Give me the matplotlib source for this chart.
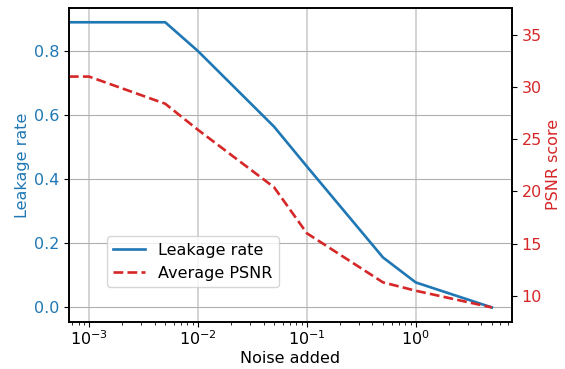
import numpy as np
import matplotlib
matplotlib.use("Agg")
import matplotlib.pyplot as plt

# noise level 0 sits off the left edge of the log axis (clipped)
noise = [0, 0.001, 0.005, 0.01, 0.05, 0.1, 0.5, 1, 5]
leakage = [0.89, 0.89, 0.89, 0.80, 0.564, 0.44, 0.156, 0.078, 0.0]
psnr = [36.2, 31.0, 28.4, 25.9, 20.4, 16.0, 11.3, 10.5, 8.9]

plt.rcParams["font.size"] = 11.5

fig = plt.figure(figsize=(5.65, 3.69), dpi=100)
ax1 = fig.add_axes([0.1221, 0.1282, 0.7841, 0.8501])
ax2 = ax1.twinx()

l1, = ax1.plot(noise, leakage, color="tab:blue", lw=1.9, label="Leakage rate")
l2, = ax2.plot(noise, psnr, color="tab:red", lw=1.9, ls="--", label="Average PSNR")
ax1.set_xscale("log")

ax1.set_xlabel("Noise added", labelpad=2)
ax1.set_ylabel("Leakage rate", color="tab:blue", labelpad=3)
ax2.set_ylabel("PSNR score", color="tab:red", labelpad=3)
ax1.tick_params(axis="y", labelcolor="tab:blue")
ax2.tick_params(axis="y", labelcolor="tab:red")
ax1.tick_params(axis="x", pad=2)
ax1.set_yticks([0.0, 0.2, 0.4, 0.6, 0.8])
ax2.set_yticks([10, 15, 20, 25, 30, 35])

ax1.grid(True, color="#b0b0b0", lw=0.8)
ax1.grid(True, axis="x", color="#cccccc", lw=1.2)

for ax in (ax1, ax2):
    for sp in ax.spines.values():
        sp.set_linewidth(1.2)

ax2.legend(handles=[l1, l2], loc="lower left", bbox_to_anchor=(0.085, 0.11),
           borderaxespad=0)

fig.savefig("out.png", dpi=100)
